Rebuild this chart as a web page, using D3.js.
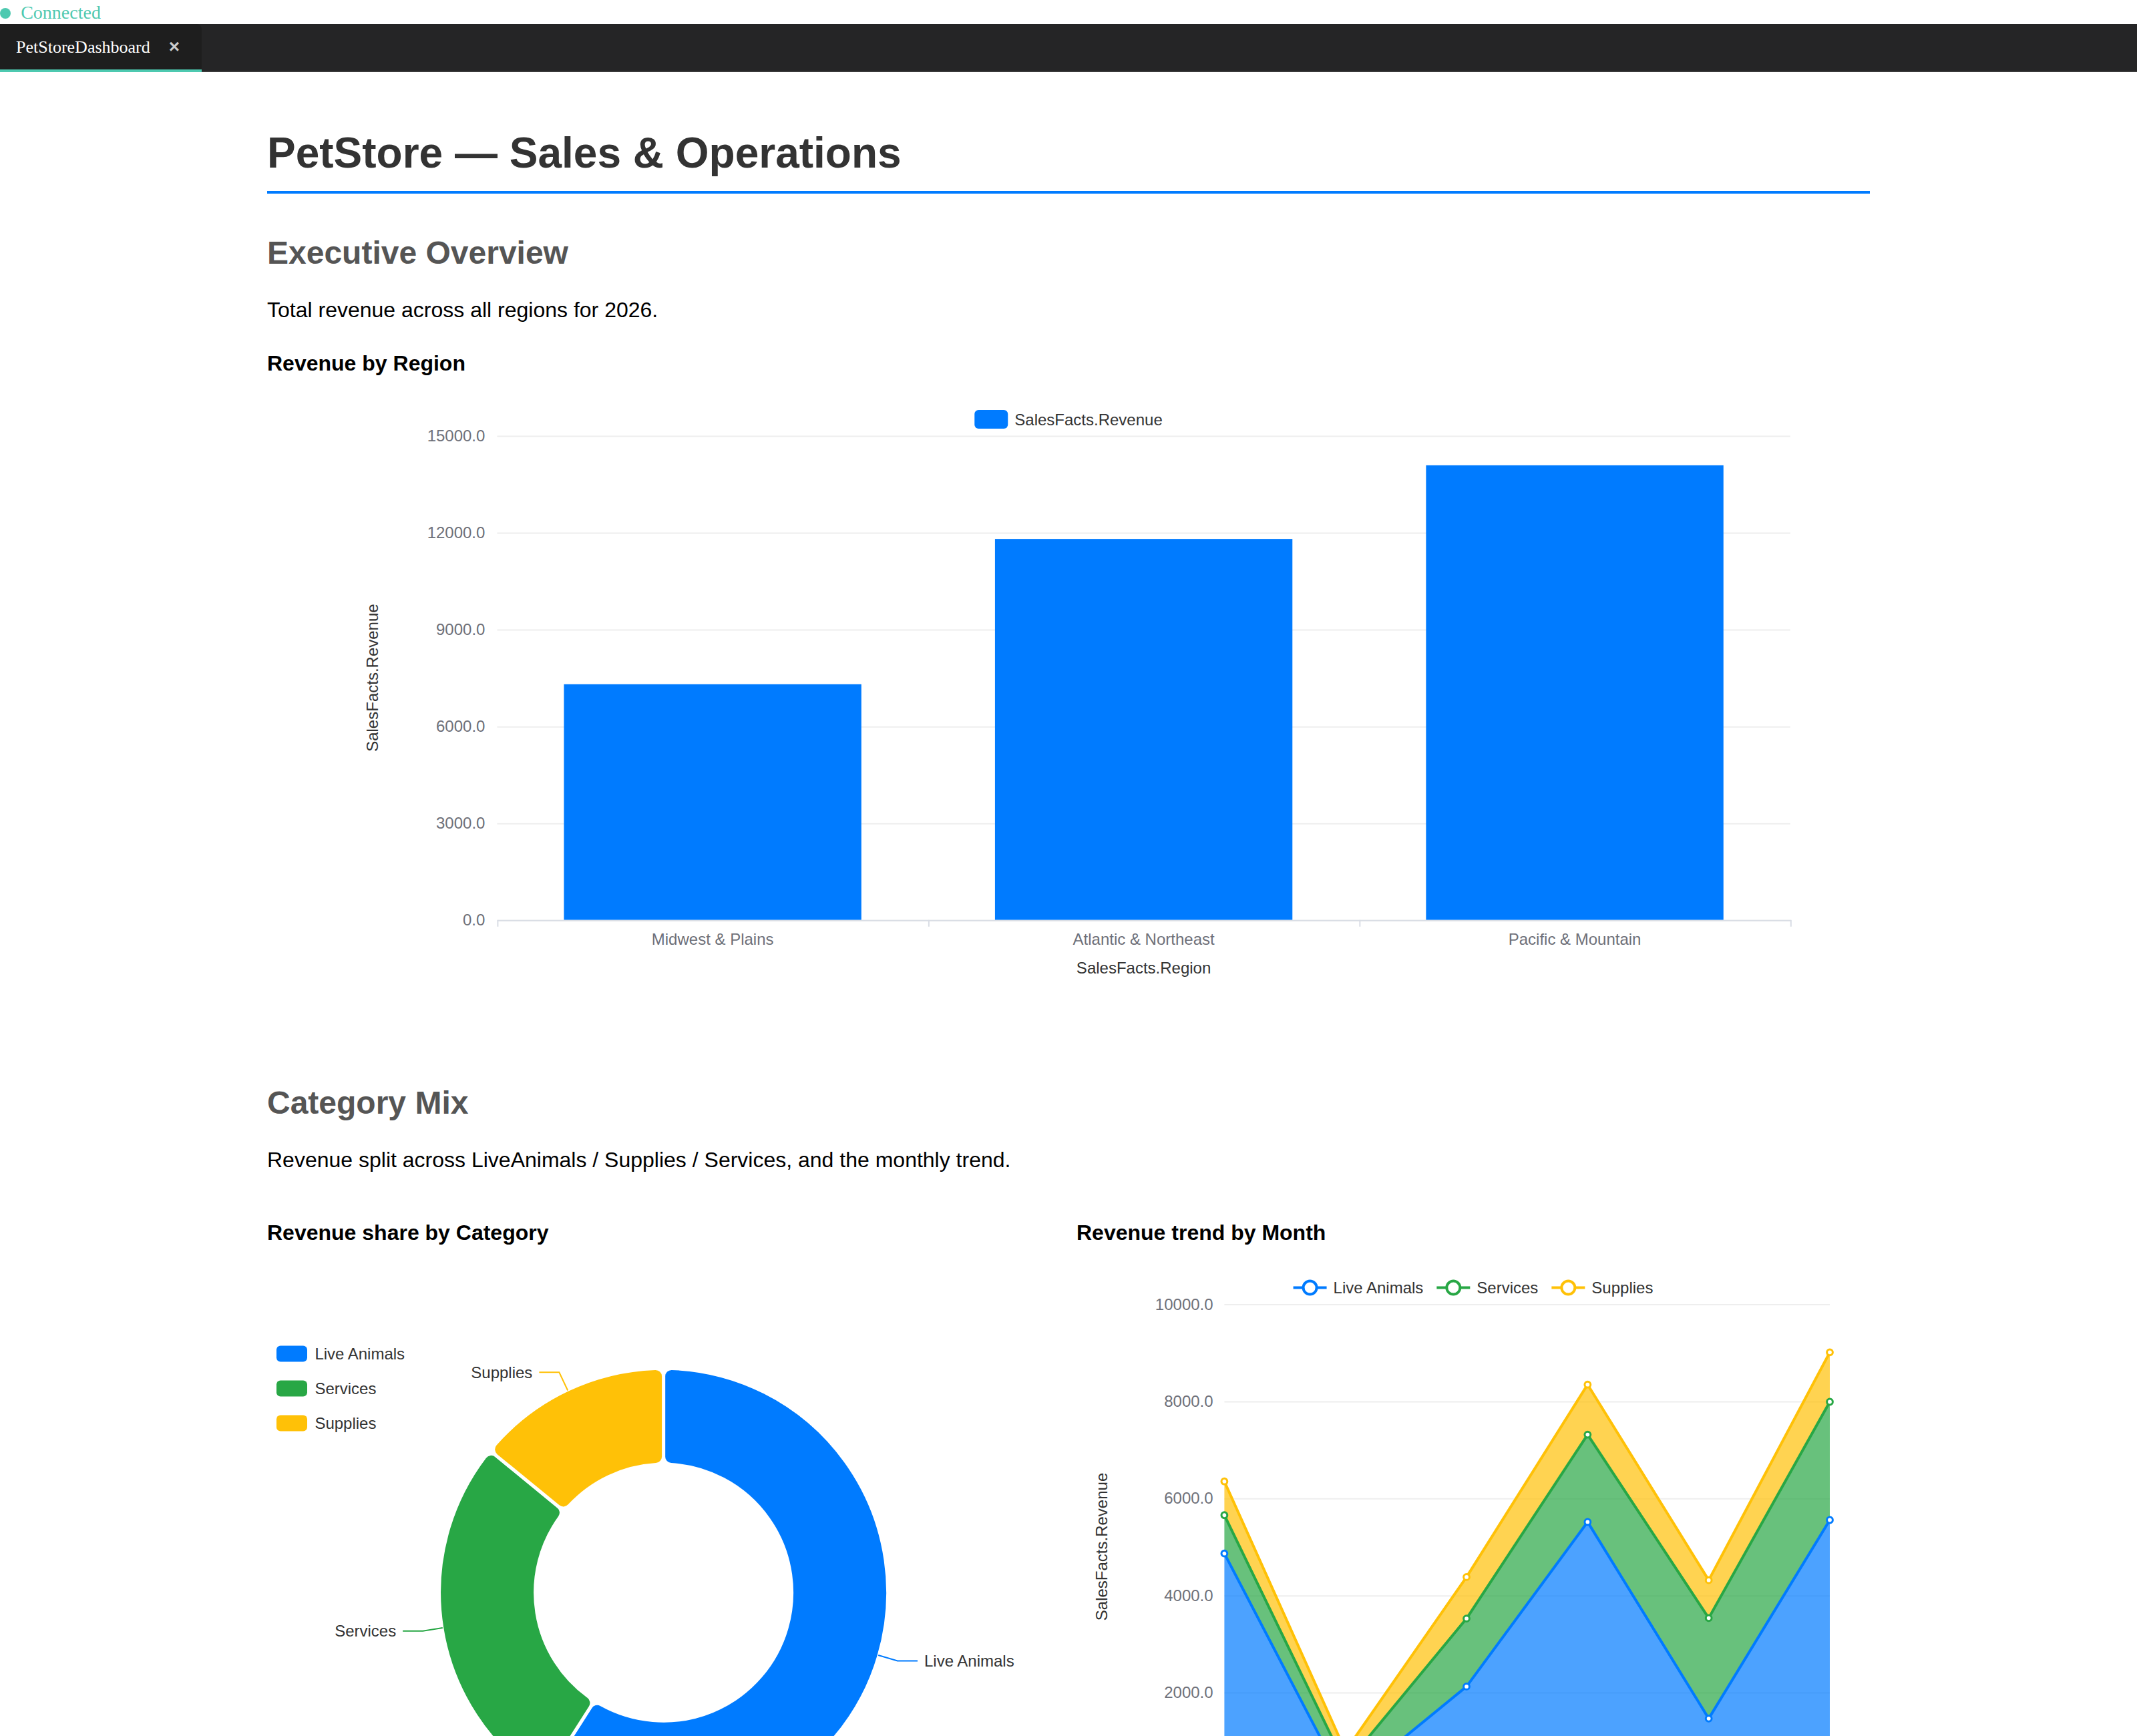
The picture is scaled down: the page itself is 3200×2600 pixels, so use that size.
<!DOCTYPE html>
<html>
<head>
<meta charset="utf-8">
<title>PetStoreDashboard</title>
<script src="https://cdn.jsdelivr.net/npm/d3@7"></script>
<style>
  body { margin: 0; zoom: 2; background: #fff; font-family: "Liberation Sans", Arial, Helvetica, sans-serif; }
  .status { position: relative; height: 18px; padding-left: 15.6px; font: 14px/19px "Liberation Serif", "Times New Roman", serif; color: #4ec9b0; }
  .status .dot { position: absolute; left: 0; top: 5.8px; width: 8px; height: 8px; border-radius: 50%; background: #4ec9b0; }
  .tabbar { height: 36px; background: #252526; box-shadow: inset 0 -1px 0 #3a3a3a; }
  .tab { box-sizing: border-box; width: 151px; height: 36px; padding-left: 12px; background: #1e1e1e;
         border-bottom: 2px solid #4ec9b0; border-top-right-radius: 4px; color: #fff;
         font: 13px/35px "Liberation Serif", "Times New Roman", serif; overflow: hidden; }
  .tab .close { margin-left: 14px; color: #ccc; font: bold 14px "Liberation Sans", Arial, sans-serif; }
  .page { width: 1200px; margin: 0 auto; }
  h1 { margin: 41.7px 0 0; font-size: 32px; line-height: 38.4px; padding-bottom: 8.9px; border-bottom: 2px solid #007bff; color: #333; }
  h2 { margin: 30px 0 0; font-size: 24px; line-height: 28.8px; color: #555; }
  p { margin: 18.8px 0 0; font-size: 16px; line-height: 19.2px; color: #000; }
  h3 { margin: 20.9px 0 0; font-size: 16px; line-height: 19.2px; color: #000; }
  #bar { display: block; margin-top: 8.1px; }
  h2.mix { margin-top: 41.5px; }
  p.mix { margin-top: 18.9px; }
  .row { display: flex; gap: 12px; margin-top: 35px; }
  .col { width: 594px; }
  .row h3 { margin-top: 0; }
  .row svg { display: block; margin-top: 7.4px; }
  svg text { font-family: "Liberation Sans", Arial, Helvetica, sans-serif; }
</style>
</head>
<body>
<div class="status"><span class="dot"></span>Connected</div>
<div class="tabbar"><div class="tab">PetStoreDashboard<span class="close">×</span></div></div>

<div class="page">
  <h1>PetStore — Sales &amp; Operations</h1>
  <h2>Executive Overview</h2>
  <p>Total revenue across all regions for 2026.</p>
  <h3>Revenue by Region</h3>
  <svg id="bar" width="1200" height="480"></svg>

  <h2 class="mix">Category Mix</h2>
  <p class="mix">Revenue split across LiveAnimals / Supplies / Services, and the monthly trend.</p>
  <div class="row">
    <div class="col">
      <h3>Revenue share by Category</h3>
      <svg id="pie" width="594" height="460"></svg>
    </div>
    <div class="col">
      <h3>Revenue trend by Month</h3>
      <svg id="trend" width="594" height="460"></svg>
    </div>
  </div>
</div>

<script>
// ---- data ----
var regions = ["Midwest & Plains", "Atlantic & Northeast", "Pacific & Mountain"];
var regionRevenue = [7300, 11800, 14080];
var barTicks = [0, 3000, 6000, 9000, 12000, 15000];

var categories = ["Live Animals", "Services", "Supplies"];
var categoryRevenue = [19580, 8915, 4670];

// six monthly points; the month axis itself sits below the visible page
var months = ["m1", "m2", "m3", "m4", "m5", "m6"];
var liveAnimals = [4860, 80, 2120, 5510, 1460, 5550];
var services = [790, 420, 1400, 1800, 2070, 2435];
var supplies = [695, 290, 855, 1030, 780, 1020];
var trendTicks = [2000, 4000, 6000, 8000, 10000];

var seriesColors = ["#007bff", "#28a745", "#ffc107"];
var axisText = "#6e7079",
    nameText = "#333",
    gridColor = "#eeeeee",
    axisLine = "#d9dde5";

function cleanAxis(a) {
  a.attr("font-size", 12).attr("font-family", null);
  a.select(".domain").remove();
  a.selectAll("text").attr("fill", axisText);
}

// ================= Revenue by Region (bars) =================
var svg = d3.select("#bar"),
    margin = {top: 36.2, right: 59.6, bottom: 81.1, left: 172.2},
    width = +svg.attr("width") - margin.left - margin.right,
    height = +svg.attr("height") - margin.top - margin.bottom;

var x = d3.scaleBand().domain(regions).range([0, width]).paddingInner(0.31).paddingOuter(0.155),
    y = d3.scaleLinear().domain([0, 15000]).range([height, 0]);

var g = svg.append("g")
    .attr("transform", "translate(" + margin.left + "," + margin.top + ")");

g.append("g")
    .call(d3.axisLeft(y).tickValues(barTicks).tickSize(-width).tickPadding(9).tickFormat(d3.format(".1f")))
    .call(cleanAxis)
    .selectAll("line").attr("stroke", gridColor);

g.selectAll(".bar")
  .data(regionRevenue)
  .enter().append("rect")
    .attr("class", "bar")
    .attr("x", function(d, i) { return x(regions[i]); })
    .attr("y", function(d) { return y(d); })
    .attr("width", x.bandwidth())
    .attr("height", function(d) { return height - y(d); })
    .attr("fill", seriesColors[0]);

// axis line with ticks on the category boundaries
var xEdge = d3.scaleLinear().domain([0, regions.length]).range([0, width]);
g.append("g")
    .attr("transform", "translate(0," + height + ")")
    .call(d3.axisBottom(xEdge).tickValues(d3.range(regions.length + 1)).tickSize(5).tickSizeOuter(0).tickFormat(""))
    .selectAll("path, line").attr("stroke", axisLine);

g.append("g")
    .attr("transform", "translate(0," + height + ")")
    .call(d3.axisBottom(x).tickSize(0).tickPadding(10.3))
    .call(cleanAxis);

g.append("text")
    .attr("x", width / 2)
    .attr("y", height + 40)
    .attr("text-anchor", "middle")
    .attr("font-size", 12)
    .attr("fill", nameText)
    .text("SalesFacts.Region");

g.append("text")
    .attr("transform", "translate(-93.5," + height / 2 + ") rotate(-90)")
    .attr("text-anchor", "middle")
    .attr("dominant-baseline", "central")
    .attr("font-size", 12)
    .attr("fill", nameText)
    .text("SalesFacts.Revenue");

// legend, centred over the chart
var barLegend = svg.append("g");
barLegend.append("rect")
    .attr("width", 25).attr("height", 14).attr("rx", 3)
    .attr("fill", seriesColors[0]);
var barLegendText = barLegend.append("text")
    .attr("x", 30).attr("y", 7)
    .attr("dominant-baseline", "central")
    .attr("font-size", 12)
    .attr("fill", nameText)
    .text("SalesFacts.Revenue");
var blw = 30 + barLegendText.node().getComputedTextLength();
barLegend.attr("transform", "translate(" + (+svg.attr("width") / 2 - blw / 2) + ",17)");

// ================= Revenue share by Category (donut) =================
var pieSvg = d3.select("#pie"),
    cx = 296.8, cy = 252.6,
    outerR = 168, innerR = 96;

var pie = d3.pie().sort(null).startAngle(0).endAngle(2 * Math.PI);
var arcs = pie(categoryRevenue);
var arc = d3.arc().innerRadius(innerR).outerRadius(outerR).cornerRadius(6);

var donut = pieSvg.append("g").attr("transform", "translate(" + cx + "," + cy + ")");

donut.selectAll(".slice")
  .data(arcs)
  .enter().append("path")
    .attr("class", "slice")
    .attr("d", arc)
    .attr("fill", function(d, i) { return seriesColors[i]; })
    .attr("stroke", "#fff")
    .attr("stroke-width", 2.5);

// outside labels with two-segment leader lines
arcs.forEach(function(d, i) {
  var a = (d.startAngle + d.endAngle) / 2,
      sx = Math.sin(a), sy = -Math.cos(a),
      side = sx >= 0 ? 1 : -1,
      r1 = outerR - 0.5, r2 = outerR + 14.5,
      p2 = [r2 * sx, r2 * sy],
      p3 = [p2[0] + side * 15, p2[1]];
  donut.append("polyline")
      .attr("points", [[r1 * sx, r1 * sy], p2, p3].join(" "))
      .attr("fill", "none")
      .attr("stroke", seriesColors[i])
      .attr("stroke-width", 1);
  donut.append("text")
      .attr("x", p3[0] + side * 5)
      .attr("y", p3[1])
      .attr("text-anchor", side > 0 ? "start" : "end")
      .attr("dominant-baseline", "central")
      .attr("font-size", 12)
      .attr("fill", nameText)
      .text(categories[i]);
});

var pieLegend = pieSvg.append("g").attr("transform", "translate(7,73.8)");
var pItem = pieLegend.selectAll("g")
  .data(categories)
  .enter().append("g")
    .attr("transform", function(d, i) { return "translate(0," + i * 26 + ")"; });
pItem.append("rect")
    .attr("y", -6).attr("width", 23).attr("height", 12).attr("rx", 3)
    .attr("fill", function(d, i) { return seriesColors[i]; });
pItem.append("text")
    .attr("x", 28.7)
    .attr("dominant-baseline", "central")
    .attr("font-size", 12)
    .attr("fill", nameText)
    .text(function(d) { return d; });

// ================= Revenue trend by Month (stacked area) =================
var tSvg = d3.select("#trend"),
    tMargin = {top: 36.5, right: 30, bottom: 60, left: 110.7},
    tWidth = +tSvg.attr("width") - tMargin.left - tMargin.right,
    tHeight = +tSvg.attr("height") - tMargin.top - tMargin.bottom;

var tx = d3.scalePoint().domain(months).range([0, tWidth]),
    ty = d3.scaleLinear().domain([0, 10000]).range([tHeight, 0]);

var trendRows = months.map(function(m, i) {
  return {month: m, "Live Animals": liveAnimals[i], "Services": services[i], "Supplies": supplies[i]};
});
var layers = d3.stack().keys(categories)(trendRows);

var tg = tSvg.append("g")
    .attr("transform", "translate(" + tMargin.left + "," + tMargin.top + ")");

tg.append("g")
    .call(d3.axisLeft(ty).tickValues(trendTicks).tickSize(-tWidth).tickPadding(8.4).tickFormat(d3.format(".1f")))
    .call(cleanAxis)
    .selectAll("line").attr("stroke", gridColor);

var area = d3.area()
    .x(function(d) { return tx(d.data.month); })
    .y0(function(d) { return ty(d[0]); })
    .y1(function(d) { return ty(d[1]); });
var topLine = d3.line()
    .x(function(d) { return tx(d.data.month); })
    .y(function(d) { return ty(d[1]); });

tg.selectAll(".area")
  .data(layers)
  .enter().append("path")
    .attr("class", "area")
    .attr("d", area)
    .attr("fill", function(d, i) { return seriesColors[i]; })
    .attr("fill-opacity", 0.7);

tg.selectAll(".line")
  .data(layers)
  .enter().append("path")
    .attr("class", "line")
    .attr("d", topLine)
    .attr("fill", "none")
    .attr("stroke", function(d, i) { return seriesColors[i]; })
    .attr("stroke-width", 2)
    .attr("stroke-linejoin", "round");

layers.forEach(function(layer, i) {
  tg.selectAll(".dot" + i)
    .data(layer)
    .enter().append("circle")
      .attr("cx", function(d) { return tx(d.data.month); })
      .attr("cy", function(d) { return ty(d[1]); })
      .attr("r", 2.2)
      .attr("fill", "#fff")
      .attr("stroke", seriesColors[i])
      .attr("stroke-width", 1.5);
});

tg.append("text")
    .attr("transform", "translate(-92.2," + tHeight / 2 + ") rotate(-90)")
    .attr("text-anchor", "middle")
    .attr("dominant-baseline", "central")
    .attr("font-size", 12)
    .attr("fill", nameText)
    .text("SalesFacts.Revenue");

// legend: line + hollow circle icons
var tLegend = tSvg.append("g");
var lx = 0;
categories.forEach(function(c, i) {
  var item = tLegend.append("g").attr("transform", "translate(" + lx + ",0)");
  item.append("line")
      .attr("x1", 0).attr("x2", 25)
      .attr("stroke", seriesColors[i]).attr("stroke-width", 2);
  item.append("circle")
      .attr("cx", 12.5).attr("r", 5)
      .attr("fill", "#fff")
      .attr("stroke", seriesColors[i]).attr("stroke-width", 2);
  var t = item.append("text")
      .attr("x", 30)
      .attr("dominant-baseline", "central")
      .attr("font-size", 12)
      .attr("fill", nameText)
      .text(c);
  lx += 30 + t.node().getComputedTextLength() + 10;
});
lx -= 10;
tLegend.attr("transform", "translate(" + (+tSvg.attr("width") / 2 - lx / 2) + ",24.3)");
</script>
</body>
</html>
